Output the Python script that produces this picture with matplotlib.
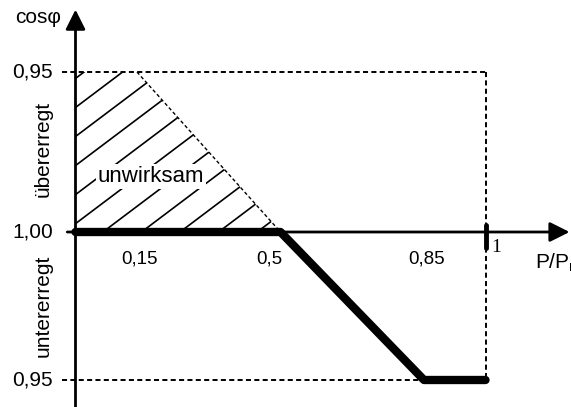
import numpy as np
import matplotlib.pyplot as plt
from matplotlib.patches import Polygon

plt.rcParams['font.family'] = ['Liberation Sans', 'DejaVu Sans']
plt.rcParams['mathtext.fontset'] = 'custom'
plt.rcParams['mathtext.rm'] = 'Liberation Sans'

# cos(phi)(P) characteristic, y: +1 = 0,95 overexcited, 0 = 1,00, -0.925 = 0,95 underexcited
P_char = [0.0, 0.5, 0.85, 1.0]
Q_char = [0.0, 0.0, -0.925, -0.925]
Y_OVER = 1.0
Y_UNDER = -0.925

# region where the characteristic is ineffective
P_zone = [0.0, 0.0, 0.15, 0.5]
Q_zone = [0.0, 1.0, 1.0, 0.0]

x_ticks = [0.15, 0.5, 0.85]
x_tick_labels = ['0,15', '0,5', '0,85']
y_ticks = [Y_OVER, 0.0, Y_UNDER]
y_tick_labels = ['0,95', '1,00', '0,95']

fig = plt.figure(figsize=(5.71, 4.07), dpi=100)
ax = fig.add_axes([0, 0, 1, 1])
ax.set_xlim(-75.5 / 410, (571 - 75.5) / 410)
ax.set_ylim(-(407 - 232) / 160, 232 / 160)
ax.axis('off')

# hatched area, hatch lines clipped to the polygon
zone = Polygon(np.column_stack([P_zone, Q_zone]), closed=True,
               facecolor='none', edgecolor='none')
ax.add_patch(zone)
slope = np.tan(np.radians(37)) * 410 / 160
for x0 in np.arange(0.067 - 0.094 * 6, 0.6, 0.094):
    xs = np.array([x0 - 0.5, x0 + 0.6])
    hl, = ax.plot(xs, slope * (xs - x0), color='black', lw=1.2)
    hl.set_clip_path(zone)

# limits of the ineffective zone
ax.plot([P_zone[2], P_zone[3]], [Q_zone[2], Q_zone[3]], color='black',
        lw=1.0, linestyle=(0, (2.5, 1.8)))

# dashed guide lines
dash = (0, (2.6, 1.7))
ax.plot([-0.032, 1.0], [Y_OVER, Y_OVER], color='black', lw=1.4, linestyle=dash)
ax.plot([-0.032, 0.85], [Y_UNDER, Y_UNDER], color='black', lw=1.4, linestyle=dash)
ax.plot([1.0, 1.0], [Y_OVER, Y_UNDER], color='black', lw=1.4, linestyle=dash)

# axes with arrow heads
arrow = dict(arrowstyle='-|>', lw=2, color='black', mutation_scale=30,
             shrinkA=0, shrinkB=0)
ax.annotate('', xy=(0, 1.39), xytext=(0, -1.1), arrowprops=arrow)
ax.annotate('', xy=(1.205, 0), xytext=(-0.02, 0), arrowprops=arrow)

# characteristic
ax.plot(P_char, Q_char, color='black', lw=6, solid_capstyle='round',
        solid_joinstyle='round')
ax.plot([1.0, 1.0], [0.045, -0.1], color='black', lw=3.5, solid_capstyle='round')

# labels
for x, lab in zip(x_ticks, x_tick_labels):
    ha = 'right' if lab == '0,5' else 'center'
    xx = x + 0.005 if lab == '0,5' else x + 0.007
    ax.text(xx, -0.17, lab, ha=ha, va='center', fontsize=13.5)
for y, lab in zip(y_ticks, y_tick_labels):
    ax.text(-0.055, y, lab, ha='right', va='center', fontsize=15)
ax.text(1.015, -0.095, '1', ha='left', va='center', fontsize=14,
        family='Liberation Serif')
ax.text(1.12, -0.19, r'P/P$_\mathregular{n}$', ha='left', va='center', fontsize=15)
ax.text(-0.091, 1.34, 'cosφ', ha='center', va='center', fontsize=15)
ax.text(-0.078, 0.52, 'übererregt', rotation=90, ha='center', va='center', fontsize=15)
ax.text(-0.078, -0.46, 'untererregt', rotation=90, ha='center', va='center', fontsize=15)
ax.text(0.184, 0.344, 'unwirksam', ha='center', va='center', fontsize=16,
        bbox=dict(facecolor='white', edgecolor='none', pad=1.5))

fig.savefig('out.png', dpi=100)
